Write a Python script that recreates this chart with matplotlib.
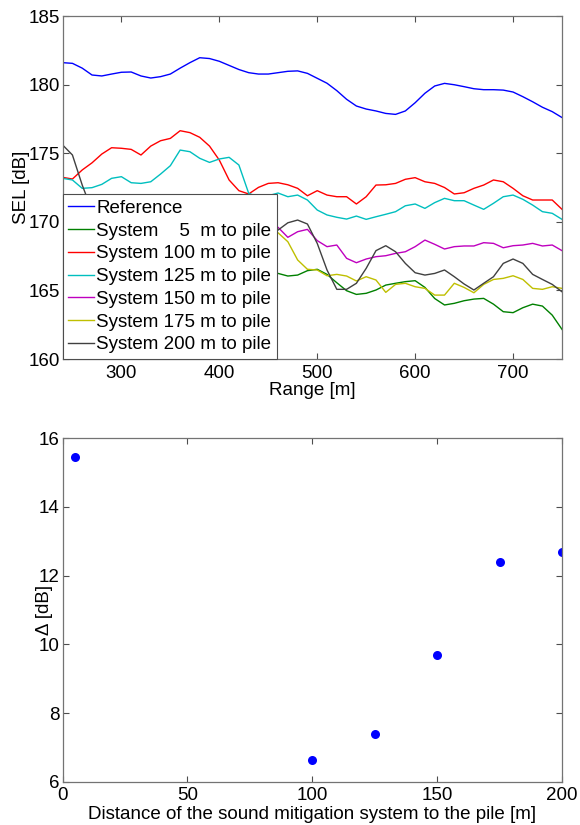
import numpy as np
import matplotlib.pyplot as plt

plt.rcParams['font.family'] = ['Liberation Sans', 'DejaVu Sans']
plt.rcParams['font.size'] = 13.5

# range axis of the SEL curves, 10 m steps
rng = np.arange(240, 751, 10)

sel_reference = [181.6, 181.55, 181.2, 180.7, 180.63, 180.77, 180.9, 180.92, 180.63, 180.48,
                 180.58, 180.77, 181.2, 181.6, 181.96, 181.9, 181.7, 181.4, 181.1, 180.87,
                 180.77, 180.77, 180.87, 180.97, 181.0, 180.82, 180.46, 180.1, 179.56, 178.93,
                 178.44, 178.22, 178.08, 177.9, 177.83, 178.08, 178.68, 179.37, 179.9, 180.09,
                 179.99, 179.85, 179.7, 179.63, 179.63, 179.6, 179.46, 179.12, 178.75, 178.35,
                 178.03, 177.6]
sel_5 = [167.8, 167.6, 167.9, 168.2, 168.0, 167.7, 167.5, 167.8, 168.1, 167.9,
         167.6, 167.4, 167.2, 167.5, 167.3, 167.0, 166.8, 166.9, 166.6, 166.4,
         166.5, 166.3, 166.24, 166.05, 166.12, 166.44, 166.54, 166.17, 165.56, 164.98,
         164.71, 164.79, 165.03, 165.39, 165.52, 165.64, 165.71, 165.22, 164.41, 163.94,
         164.06, 164.25, 164.37, 164.42, 164.0, 163.45, 163.38, 163.74, 164.0, 163.86,
         163.2, 162.16]
sel_100 = [173.24, 173.12, 173.78, 174.3, 174.94, 175.4, 175.36, 175.28, 174.87, 175.52,
           175.91, 176.08, 176.64, 176.5, 176.16, 175.52, 174.5, 173.05, 172.27, 172.03,
           172.51, 172.8, 172.85, 172.7, 172.44, 171.9, 172.27, 171.95, 171.83, 171.83,
           171.3, 171.83, 172.68, 172.7, 172.8, 173.1, 173.22, 172.92, 172.8, 172.5,
           172.03, 172.12, 172.44, 172.68, 173.05, 172.92, 172.44, 171.9, 171.59, 171.59,
           171.59, 170.91]
sel_125 = [173.17, 173.05, 172.44, 172.49, 172.73, 173.17, 173.29, 172.85, 172.8, 172.92,
           173.48, 174.09, 175.23, 175.11, 174.63, 174.33, 174.58, 174.7, 174.14, 172.08,
           171.8, 171.9, 172.1, 171.83, 171.95, 171.59, 170.86, 170.5, 170.33, 170.2,
           170.42, 170.18, 170.37, 170.55, 170.74, 171.17, 171.3, 170.98, 171.4, 171.71,
           171.54, 171.54, 171.22, 170.91, 171.35, 171.83, 171.95, 171.64, 171.22, 170.74,
           170.62, 170.18]
sel_150 = [170.9, 170.6, 170.8, 171.0, 170.7, 170.4, 170.6, 170.9, 170.5, 170.3,
           170.6, 170.4, 170.1, 170.3, 170.5, 170.2, 169.9, 170.1, 169.8, 169.6,
           169.9, 169.7, 169.6, 168.87, 169.28, 169.45, 168.63, 168.19, 168.31, 167.34,
           167.02, 167.29, 167.46, 167.53, 167.7, 167.82, 168.19, 168.67, 168.36, 168.02,
           168.19, 168.24, 168.24, 168.48, 168.43, 168.11, 168.26, 168.31, 168.43, 168.24,
           168.31, 167.9]
sel_175 = [170.2, 169.9, 170.1, 170.4, 170.0, 169.7, 169.9, 170.2, 169.8, 169.5,
           169.7, 169.9, 169.6, 169.3, 169.5, 169.2, 169.4, 169.6, 169.3, 169.0,
           169.4, 169.6, 169.2, 168.55, 167.22, 166.54, 166.49, 166.07, 166.17, 166.05,
           165.69, 166.0, 165.76, 164.86, 165.44, 165.52, 165.27, 165.15, 164.66, 164.66,
           165.52, 165.22, 164.83, 165.44, 165.8, 165.88, 166.07, 165.8, 165.15, 165.08,
           165.27, 165.15]
sel_200 = [175.6, 174.87, 172.68, 170.8, 170.2, 170.0, 169.8, 169.9, 170.1, 169.7,
           169.5, 169.8, 170.0, 169.6, 169.3, 169.5, 169.8, 169.6, 169.2, 169.0,
           169.1, 169.3, 169.4, 169.93, 170.13, 169.84, 168.43, 166.49, 165.08, 165.08,
           165.52, 166.61, 167.9, 168.26, 167.82, 166.97, 166.29, 166.12, 166.24, 166.49,
           166.0, 165.47, 165.03, 165.52, 166.0, 166.97, 167.29, 166.97, 166.17, 165.8,
           165.44, 164.9]

labels = ['Reference', 'System    5  m to pile', 'System 100 m to pile',
          'System 125 m to pile', 'System 150 m to pile', 'System 175 m to pile',
          'System 200 m to pile']
colors = ['#0000ff', '#008000', '#ff0000', '#00bfbf', '#bf00bf', '#bfbf00', '#404040']

# insertion loss against distance of the mitigation system
distance = [5, 100, 125, 150, 175, 200]
delta = [15.45, 6.64, 7.39, 9.70, 12.40, 12.68]

fig = plt.figure(figsize=(5.8, 8.25), dpi=100)
ax1 = fig.add_axes([0.108, 0.5648, 0.861, 0.4158])
ax2 = fig.add_axes([0.108, 0.0525, 0.861, 0.4162])

series = [sel_reference, sel_5, sel_100, sel_125, sel_150, sel_175, sel_200]
for s, c, lab in zip(series, colors, labels):
    ax1.plot(rng, s, color=c, lw=1.0, label=lab)

ax1.set_xlim(240, 750)
ax1.set_ylim(160, 185)
ax1.set_xticks([300, 400, 500, 600, 700])
ax1.set_yticks([160, 165, 170, 175, 180, 185])
ax1.set_xlabel('Range [m]', labelpad=0)
ax1.set_ylabel('SEL [dB]', labelpad=-1)

leg = ax1.legend(loc='lower left', bbox_to_anchor=(0, 0), borderaxespad=0,
                 fancybox=False, framealpha=1, edgecolor='0.3',
                 handlelength=1.35, handletextpad=0.15, labelspacing=0.3,
                 borderpad=0.3, fontsize=13.5)
leg.get_frame().set_linewidth(0.8)

ax2.plot(distance, delta, 'o', color='#0000ff', markersize=6.5, markeredgewidth=0)
ax2.set_xlim(0, 200)
ax2.set_ylim(6, 16)
ax2.set_xticks([0, 50, 100, 150, 200])
ax2.set_yticks([6, 8, 10, 12, 14, 16])
ax2.set_xlabel('Distance of the sound mitigation system to the pile [m]', labelpad=1)
ax2.set_ylabel('Δ [dB]', labelpad=-10)

for ax in (ax1, ax2):
    for sp in ax.spines.values():
        sp.set_color('0.45')
        sp.set_linewidth(0.9)
    ax.tick_params(direction='in', top=True, right=True, length=4,
                   width=0.8, color='0.3', labelsize=13.5)
    ax.tick_params(axis='x', pad=4)
    ax.tick_params(axis='y', pad=2)

fig.savefig('out.png', dpi=100)
